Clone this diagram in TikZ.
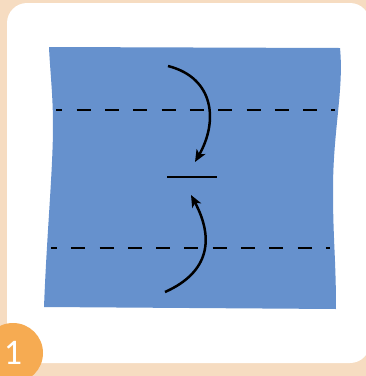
\documentclass[tikz,border=0pt]{standalone}
\usepackage{fontspec}
\setmainfont{Carlito}
\usepackage{xcolor}
\usetikzlibrary{arrows.meta}

\definecolor{peach}{HTML}{F6DCC1}
\definecolor{paper}{HTML}{6691CD}
\definecolor{badge}{HTML}{F6AB52}

\begin{document}
\begin{tikzpicture}[x=1pt, y=-1pt,
  fold/.style={line width=2pt, dash pattern=on 14pt off 14.3pt},
  crease/.style={line width=2.2pt},
  arr/.style={line width=2.5pt, -{Stealth[length=12pt, width=10pt, inset=3pt]}},
  num/.style={circle, fill=badge, minimum size=60pt, inner sep=0pt,
              text=white, font=\fontsize{36}{36}\selectfont}
]
\useasboundingbox (0,0) rectangle (366,376);
\clip (0,0) rectangle (366,376);

% card
\fill[peach] (0,0) rectangle (366,376);
\fill[white, rounded corners=20pt] (7,3) rectangle (370,363);

% paper sheet
\fill[paper] (49,47) -- (340,48)
  .. controls (344,90) and (333,130) .. (333,190)
  .. controls (333,240) and (336,260) .. (336,309)
  -- (44,307)
  .. controls (47,230) and (53,170) .. (53,125)
  .. controls (53,95) and (50,70) .. (49,47) -- cycle;

% fold lines
\coordinate (upL) at (56,110);
\coordinate (upR) at (335,110);
\coordinate (loL) at (51,248);
\coordinate (loR) at (330,248);
\draw[fold, dash phase=7.6pt] (upL) -- (upR);
\draw[fold, dash phase=8.1pt] (loL) -- (loR);

% meeting line
\coordinate (midL) at (167,177);
\coordinate (midR) at (217,177);
\draw[crease] (midL) -- (midR);

% arrows
\coordinate (topS) at (168,66);
\coordinate (topE) at (195,162);
\coordinate (botS) at (165,292);
\coordinate (botE) at (191,195);
\draw[arr] (topS) .. controls (215,78) and (218,122) .. (topE);
\draw[arr] (botS) .. controls (210,272) and (214,238) .. (botE);

% step number
\node[num] (step1) at (13,353) {1};
\end{tikzpicture}
\end{document}
